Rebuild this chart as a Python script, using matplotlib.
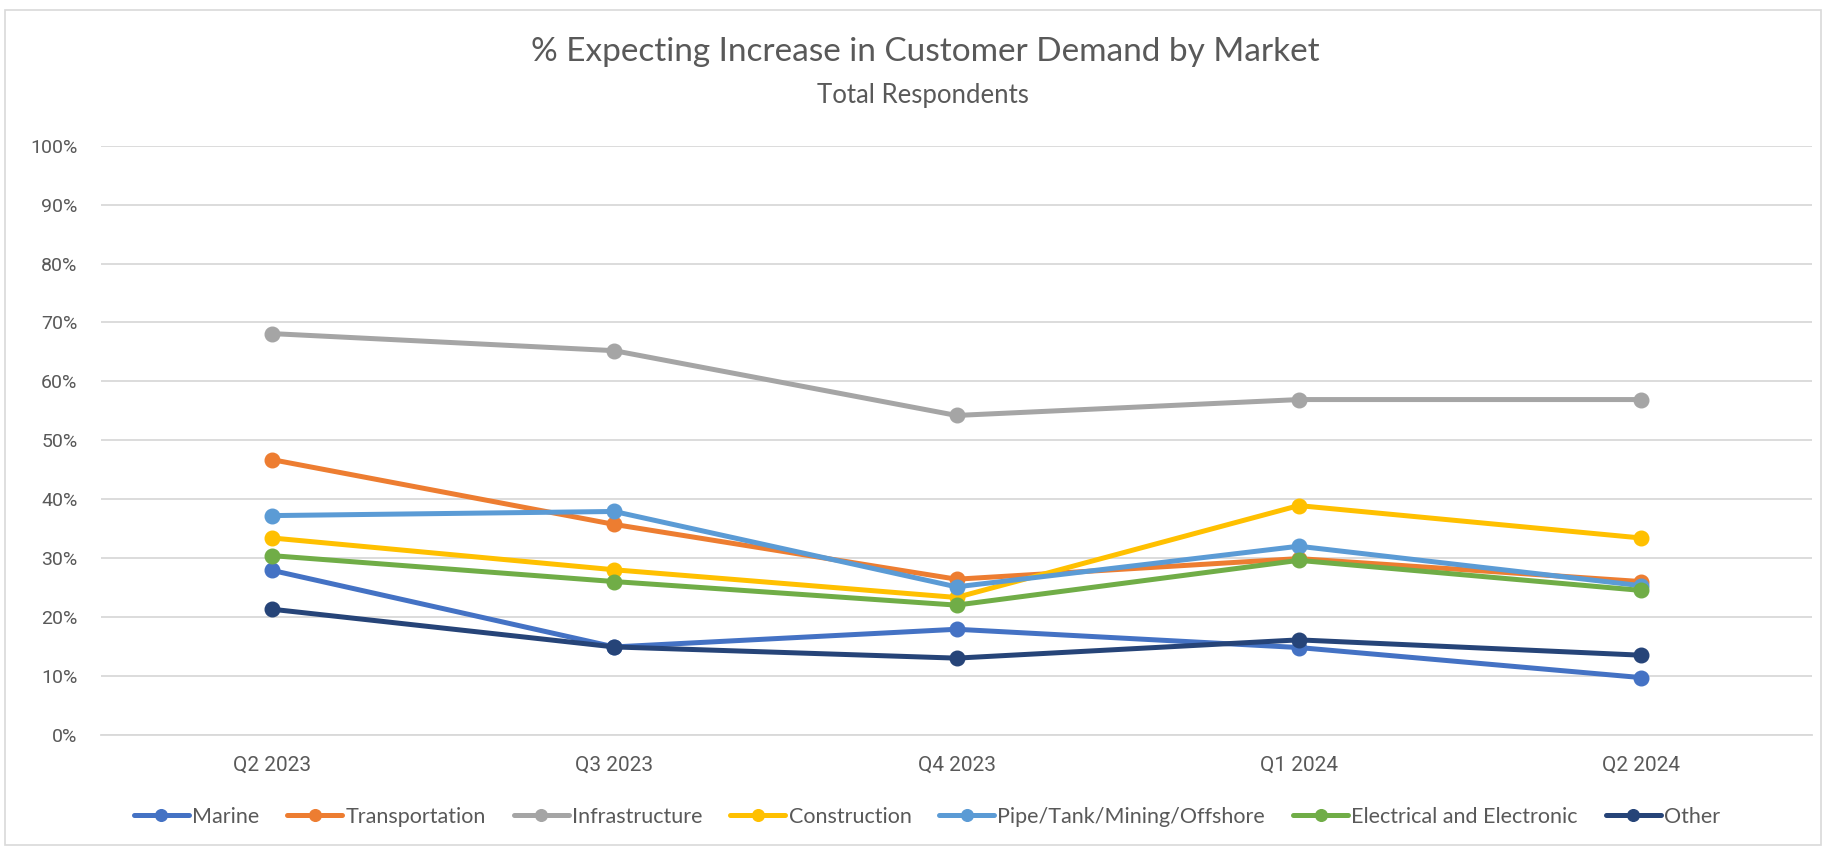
import matplotlib
matplotlib.use("Agg")
import matplotlib.pyplot as plt
from matplotlib.ticker import PercentFormatter
from matplotlib.patches import Rectangle

categories = ["Q2 2023", "Q3 2023", "Q4 2023", "Q1 2024", "Q2 2024"]
marine = [27.9, 14.9, 17.9, 14.8, 9.7]
transportation = [46.7, 35.7, 26.4, 29.9, 26.0]
infrastructure = [68.1, 65.2, 54.2, 56.9, 56.9]
construction = [33.4, 28.0, 23.3, 38.9, 33.4]
pipe = [37.2, 37.9, 25.1, 32.0, 25.3]
electrical = [30.4, 26.0, 22.0, 29.6, 24.5]
other = [21.3, 14.9, 13.0, 16.1, 13.5]

series = [
    ("Marine", marine, "#4472C4"),
    ("Transportation", transportation, "#ED7D31"),
    ("Infrastructure", infrastructure, "#A5A5A5"),
    ("Construction", construction, "#FFC000"),
    ("Pipe/Tank/Mining/Offshore", pipe, "#5B9BD5"),
    ("Electrical and Electronic", electrical, "#70AD47"),
    ("Other", other, "#264478"),
]

plt.rcParams['font.family'] = ['Lato', 'DejaVu Sans']
TXT = "#595959"

fig = plt.figure(figsize=(18.26, 8.5), dpi=100)
ax = fig.add_axes([101/1826, 1-734.7/850, (1812-101)/1826, (734.7-145.7)/850])

x = list(range(len(categories)))
for i, (name, vals, col) in enumerate(series):
    ax.plot(x, vals, color=col, lw=3.6, marker='o', ms=10.5, label=name,
            solid_capstyle='round', zorder=3+i)

ax.set_xlim(-0.5, len(categories)-0.5)
ax.set_ylim(0, 100)
ax.set_yticks(range(0, 101, 10))
ax.yaxis.set_major_formatter(PercentFormatter(decimals=0))
ax.set_xticks(x)
ax.set_xticklabels(categories)
ax.grid(axis='y', color='#D9D9D9', lw=1.3)
ax.set_axisbelow(True)
for s in ['top', 'right', 'left']:
    ax.spines[s].set_visible(False)
ax.spines['bottom'].set_color('#D9D9D9')
ax.spines['bottom'].set_linewidth(1.3)
ax.tick_params(axis='y', length=0, colors=TXT, labelsize=14, pad=17)
ax.tick_params(axis='x', length=0, colors=TXT, labelsize=15, pad=15)
for lab in ax.get_xticklabels() + ax.get_yticklabels():
    lab.set_family(['Roboto', 'DejaVu Sans'])

fig.text(925/1826, 1-52/850, "% Expecting Increase in Customer Demand by Market",
         ha='center', va='center', fontsize=24, color=TXT)
fig.text(923/1826, 1-96/850, "Total Respondents", ha='center', va='center',
         fontsize=18.5, color=TXT)

fig.legend(loc='center', bbox_to_anchor=(927/1826, 1-817/850), ncol=7,
           frameon=False, fontsize=15.5, labelcolor=TXT, handlelength=2.55,
           columnspacing=1.3, handletextpad=0.15, markerscale=0.8)

fig.patches.append(Rectangle((5/1826, 5/850), 1816/1826, 835/850,
                             transform=fig.transFigure, fill=False,
                             edgecolor='#D9D9D9', lw=1.2))

fig.savefig("out.png", dpi=100)
